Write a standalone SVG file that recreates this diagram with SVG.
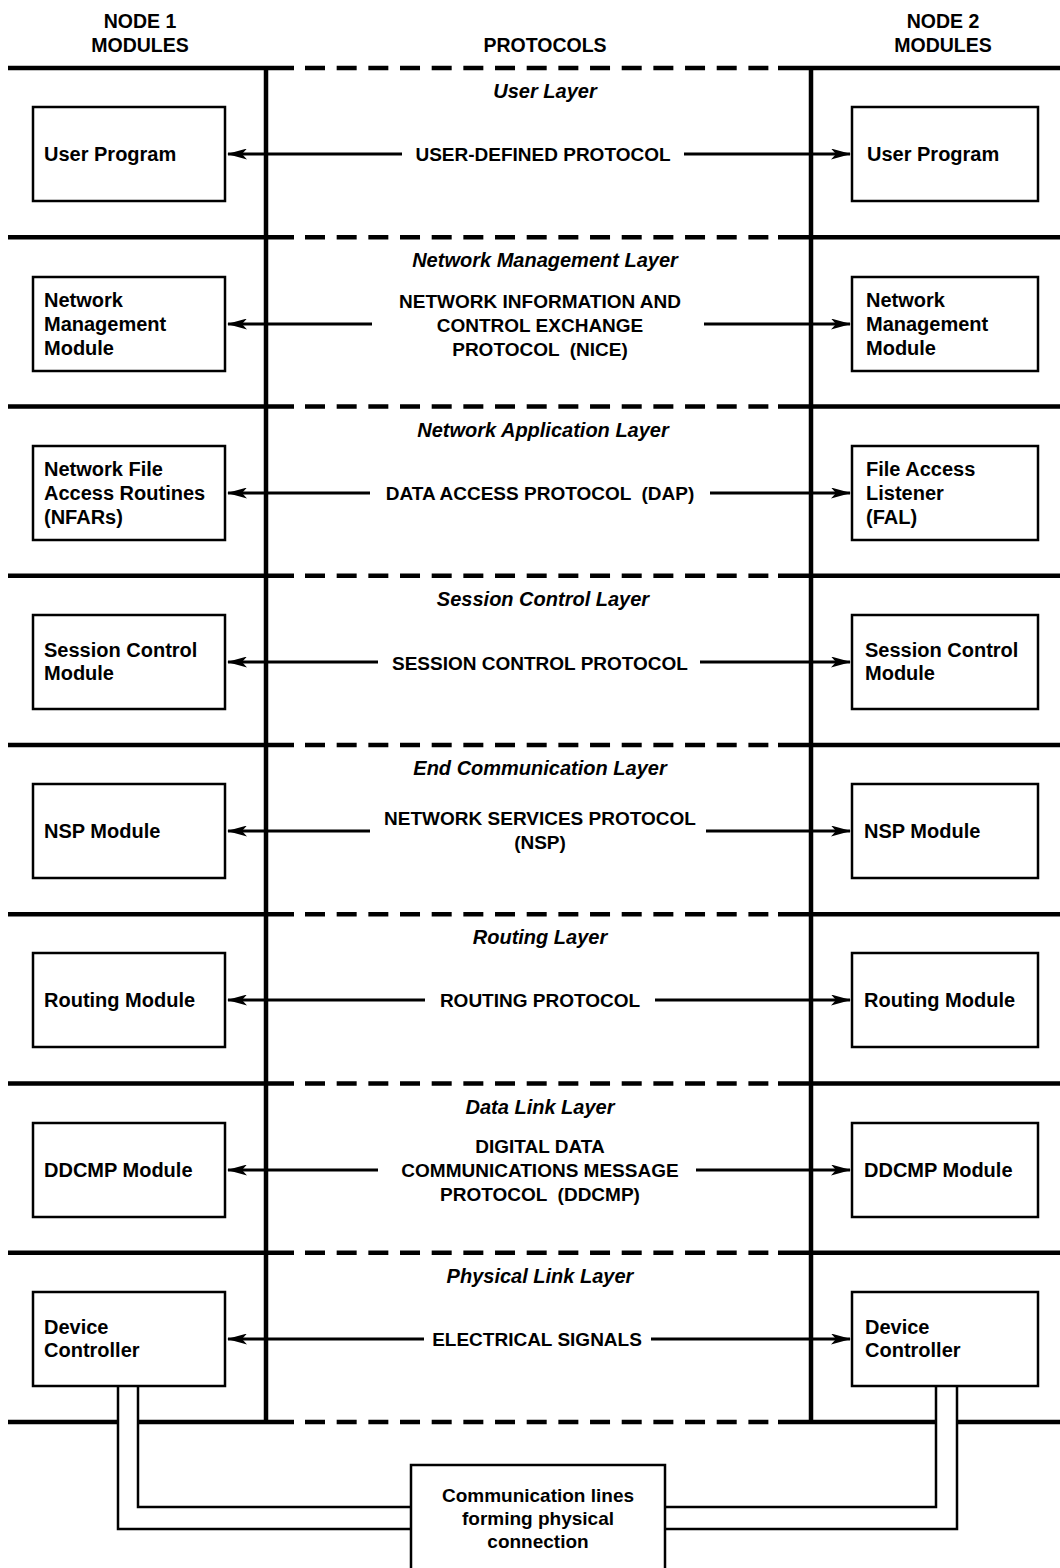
<svg xmlns="http://www.w3.org/2000/svg" width="1060" height="1568" viewBox="0 0 1060 1568">
<defs>
<style>
.bg{fill:#fff}
.hdr{font-family:"Liberation Sans",Arial,sans-serif;font-weight:bold;font-size:19.5px;fill:#000;text-anchor:middle}
.lay{font-family:"Liberation Sans",Arial,sans-serif;font-weight:bold;font-style:italic;font-size:20px;fill:#000;text-anchor:middle}
.pro{font-family:"Liberation Sans",Arial,sans-serif;font-weight:bold;font-size:19px;fill:#000;text-anchor:middle}
.box{fill:#fff;stroke:#000;stroke-width:2.5}
.bt{font-family:"Liberation Sans",Arial,sans-serif;font-weight:bold;font-size:20px;fill:#000}
.thick{stroke:#000;stroke-width:4.5;fill:none}
.dash{stroke:#000;stroke-width:4.5;fill:none;stroke-dasharray:20 11.67}
.vert{stroke:#000;stroke-width:4.5;fill:none}
.arr{stroke:#000;stroke-width:2.8;fill:none}
.wire{stroke:#000;stroke-width:2.5;fill:none}
</style>
<marker id="ah" viewBox="0 0 20 11" refX="19" refY="5.5" markerWidth="20" markerHeight="11" markerUnits="userSpaceOnUse" orient="auto-start-reverse">
<path d="M0,0 L20,5.5 L0,11 L5,5.5 Z" fill="#000"/>
</marker>
</defs>
<rect class="bg" x="0" y="0" width="1060" height="1568"/>

<g id="headers">
<text class="hdr" x="140" y="28">NODE 1</text>
<text class="hdr" x="140" y="52">MODULES</text>
<text class="hdr" x="545" y="52">PROTOCOLS</text>
<text class="hdr" x="943" y="28">NODE 2</text>
<text class="hdr" x="943" y="52">MODULES</text>
</g>

<g id="layer-separators">
<path class="thick" d="M8,68 H294 M778,68 H1060"/>
<path class="dash" d="M305,68 H769"/>
<path class="thick" d="M8,237.25 H294 M778,237.25 H1060"/>
<path class="dash" d="M305,237.25 H769"/>
<path class="thick" d="M8,406.5 H294 M778,406.5 H1060"/>
<path class="dash" d="M305,406.5 H769"/>
<path class="thick" d="M8,575.75 H294 M778,575.75 H1060"/>
<path class="dash" d="M305,575.75 H769"/>
<path class="thick" d="M8,745 H294 M778,745 H1060"/>
<path class="dash" d="M305,745 H769"/>
<path class="thick" d="M8,914.25 H294 M778,914.25 H1060"/>
<path class="dash" d="M305,914.25 H769"/>
<path class="thick" d="M8,1083.5 H294 M778,1083.5 H1060"/>
<path class="dash" d="M305,1083.5 H769"/>
<path class="thick" d="M8,1252.75 H294 M778,1252.75 H1060"/>
<path class="dash" d="M305,1252.75 H769"/>
<path class="thick" d="M8,1422 H117 M139,1422 H294 M778,1422 H935 M958,1422 H1060"/>
<path class="dash" d="M305,1422 H769"/>
<path class="vert" d="M266,66 V1424 M811,66 V1424"/>
</g>

<g id="layer-titles">
<text class="lay" x="545" y="98">User Layer</text>
<text class="lay" x="545" y="267">Network Management Layer</text>
<text class="lay" x="543" y="437">Network Application Layer</text>
<text class="lay" x="543" y="606">Session Control Layer</text>
<text class="lay" x="540" y="775">End Communication Layer</text>
<text class="lay" x="540" y="944">Routing Layer</text>
<text class="lay" x="540" y="1114">Data Link Layer</text>
<text class="lay" x="540" y="1283">Physical Link Layer</text>
</g>

<g id="protocols">
<text class="pro" x="543" y="161">USER-DEFINED PROTOCOL</text>
<text class="pro" x="540" y="308">NETWORK INFORMATION AND</text>
<text class="pro" x="540" y="332">CONTROL EXCHANGE</text>
<text class="pro" x="540" y="356" xml:space="preserve">PROTOCOL  (NICE)</text>
<text class="pro" x="540" y="500" xml:space="preserve">DATA ACCESS PROTOCOL  (DAP)</text>
<text class="pro" x="540" y="670">SESSION CONTROL PROTOCOL</text>
<text class="pro" x="540" y="825">NETWORK SERVICES PROTOCOL</text>
<text class="pro" x="540" y="849">(NSP)</text>
<text class="pro" x="540" y="1007">ROUTING PROTOCOL</text>
<text class="pro" x="540" y="1153">DIGITAL DATA</text>
<text class="pro" x="540" y="1177">COMMUNICATIONS MESSAGE</text>
<text class="pro" x="540" y="1201" xml:space="preserve">PROTOCOL  (DDCMP)</text>
<text class="pro" x="537" y="1346">ELECTRICAL SIGNALS</text>
</g>

<g id="n1-user-program">
<rect class="box" x="33" y="107" width="192" height="94"/>
<text class="bt" x="44" y="161">User Program</text>
</g>
<g id="n2-user-program">
<rect class="box" x="852" y="107" width="186" height="94"/>
<text class="bt" x="867" y="161">User Program</text>
</g>

<g id="n1-network-management">
<rect class="box" x="33" y="277" width="192" height="94"/>
<text class="bt" x="44" y="307">Network</text>
<text class="bt" x="44" y="331">Management</text>
<text class="bt" x="44" y="355">Module</text>
</g>
<g id="n2-network-management">
<rect class="box" x="852" y="277" width="186" height="94"/>
<text class="bt" x="866" y="307">Network</text>
<text class="bt" x="866" y="331">Management</text>
<text class="bt" x="866" y="355">Module</text>
</g>

<g id="n1-nfars">
<rect class="box" x="33" y="446" width="192" height="94"/>
<text class="bt" x="44" y="476">Network File</text>
<text class="bt" x="44" y="500">Access Routines</text>
<text class="bt" x="44" y="524">(NFARs)</text>
</g>
<g id="n2-fal">
<rect class="box" x="852" y="446" width="186" height="94"/>
<text class="bt" x="866" y="476">File Access</text>
<text class="bt" x="866" y="500">Listener</text>
<text class="bt" x="866" y="524">(FAL)</text>
</g>

<g id="n1-session-control">
<rect class="box" x="33" y="615" width="192" height="94"/>
<text class="bt" x="44" y="657">Session Control</text>
<text class="bt" x="44" y="680">Module</text>
</g>
<g id="n2-session-control">
<rect class="box" x="852" y="615" width="186" height="94"/>
<text class="bt" x="865" y="657">Session Control</text>
<text class="bt" x="865" y="680">Module</text>
</g>

<g id="n1-nsp">
<rect class="box" x="33" y="784" width="192" height="94"/>
<text class="bt" x="44" y="838">NSP Module</text>
</g>
<g id="n2-nsp">
<rect class="box" x="852" y="784" width="186" height="94"/>
<text class="bt" x="864" y="838">NSP Module</text>
</g>

<g id="n1-routing">
<rect class="box" x="33" y="953" width="192" height="94"/>
<text class="bt" x="44" y="1007">Routing Module</text>
</g>
<g id="n2-routing">
<rect class="box" x="852" y="953" width="186" height="94"/>
<text class="bt" x="864" y="1007">Routing Module</text>
</g>

<g id="n1-ddcmp">
<rect class="box" x="33" y="1123" width="192" height="94"/>
<text class="bt" x="44" y="1177">DDCMP Module</text>
</g>
<g id="n2-ddcmp">
<rect class="box" x="852" y="1123" width="186" height="94"/>
<text class="bt" x="864" y="1177">DDCMP Module</text>
</g>

<g id="n1-device-controller">
<rect class="box" x="33" y="1292" width="192" height="94"/>
<text class="bt" x="44" y="1334">Device</text>
<text class="bt" x="44" y="1357">Controller</text>
</g>
<g id="n2-device-controller">
<rect class="box" x="852" y="1292" width="186" height="94"/>
<text class="bt" x="865" y="1334">Device</text>
<text class="bt" x="865" y="1357">Controller</text>
</g>

<g id="communication-lines">
<path class="box" d="M411,1568 V1465 H665 V1568"/>
<text class="pro" x="538" y="1502">Communication lines</text>
<text class="pro" x="538" y="1525">forming physical</text>
<text class="pro" x="538" y="1548">connection</text>
</g>

<g id="connectors">
<path class="arr" marker-end="url(#ah)" d="M402,154 H228"/>
<path class="arr" marker-end="url(#ah)" d="M684,154 H850"/>
<path class="arr" marker-end="url(#ah)" d="M372,324 H228"/>
<path class="arr" marker-end="url(#ah)" d="M704,324 H850"/>
<path class="arr" marker-end="url(#ah)" d="M370,493 H228"/>
<path class="arr" marker-end="url(#ah)" d="M710,493 H850"/>
<path class="arr" marker-end="url(#ah)" d="M378,662 H228"/>
<path class="arr" marker-end="url(#ah)" d="M700,662 H850"/>
<path class="arr" marker-end="url(#ah)" d="M370,831 H228"/>
<path class="arr" marker-end="url(#ah)" d="M706,831 H850"/>
<path class="arr" marker-end="url(#ah)" d="M425,1000 H228"/>
<path class="arr" marker-end="url(#ah)" d="M655,1000 H850"/>
<path class="arr" marker-end="url(#ah)" d="M378,1170 H228"/>
<path class="arr" marker-end="url(#ah)" d="M696,1170 H850"/>
<path class="arr" marker-end="url(#ah)" d="M424,1339 H228"/>
<path class="arr" marker-end="url(#ah)" d="M651,1339 H850"/>
<path class="wire" d="M138,1386 V1507 H411"/>
<path class="wire" d="M118,1386 V1529 H411"/>
<path class="wire" d="M936,1386 V1507 H665"/>
<path class="wire" d="M957,1386 V1529 H665"/>
</g>
</svg>
